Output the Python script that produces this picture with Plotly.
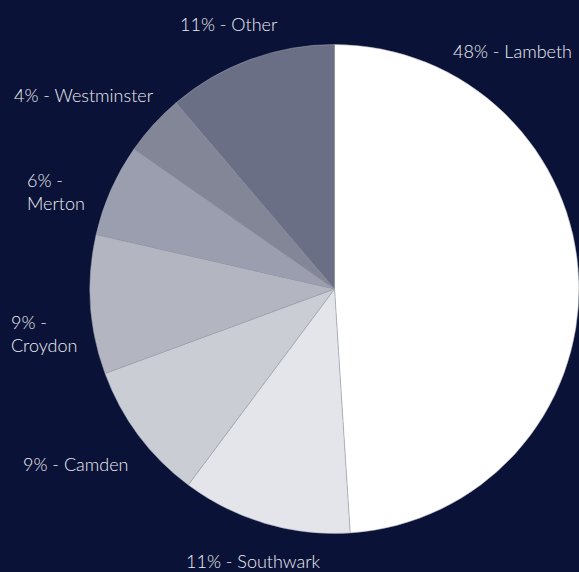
import plotly.graph_objects as go

# Share of cases by borough (percent, as labelled)
boroughs = ["Lambeth", "Southwark", "Camden", "Croydon", "Merton", "Westminster", "Other"]
shares = [48, 11, 9, 9, 6, 4, 11]

# Label text split onto two lines for the narrow left-hand labels
label_breaks = [False, False, False, True, True, False, False]

slice_colors = ["#ffffff", "#e4e5ea", "#cbcdd5", "#b3b5c1", "#9b9eae", "#838697", "#6b6f85"]

# Label anchor points (paper coordinates, left edge / vertical middle)
label_pos = [
    (451 / 579, 1 - 51 / 572),
    (184 / 579, 1 - 561 / 572),
    (21 / 579, 1 - 464 / 572),
    (9 / 579, 1 - 333 / 572),
    (25 / 579, 1 - 192 / 572),
    (12 / 579, 1 - 95 / 572),
    (178 / 579, 1 - 24 / 572),
]

W, H = 579, 572
BG = "#0b1237"
TEXT = "#eceef3"

fig = go.Figure(
    go.Pie(
        labels=boroughs,
        values=shares,
        sort=False,
        direction="clockwise",
        rotation=0,
        marker=dict(colors=slice_colors, line=dict(color="#a3a6b3", width=0.5)),
        textinfo="none",
        hoverinfo="label+value",
        showlegend=False,
        domain=dict(x=[90 / W, 1.0], y=[(H - 289 - 245) / H, (H - 289 + 245) / H]),
    )
)

for name, val, brk, (x, y) in zip(boroughs, shares, label_breaks, label_pos):
    sep = "<br>" if brk else " "
    fig.add_annotation(
        x=x, y=y, xref="paper", yref="paper",
        xanchor="left", yanchor="middle", align="left",
        text=f"{val}% -{sep}{name}",
        showarrow=False,
        font=dict(family="Lato", size=18, weight=300, color=TEXT),
    )

fig.update_layout(
    width=W, height=H,
    margin=dict(l=0, r=0, t=0, b=0),
    paper_bgcolor=BG,
    plot_bgcolor=BG,
)

fig.write_html("out.html")
